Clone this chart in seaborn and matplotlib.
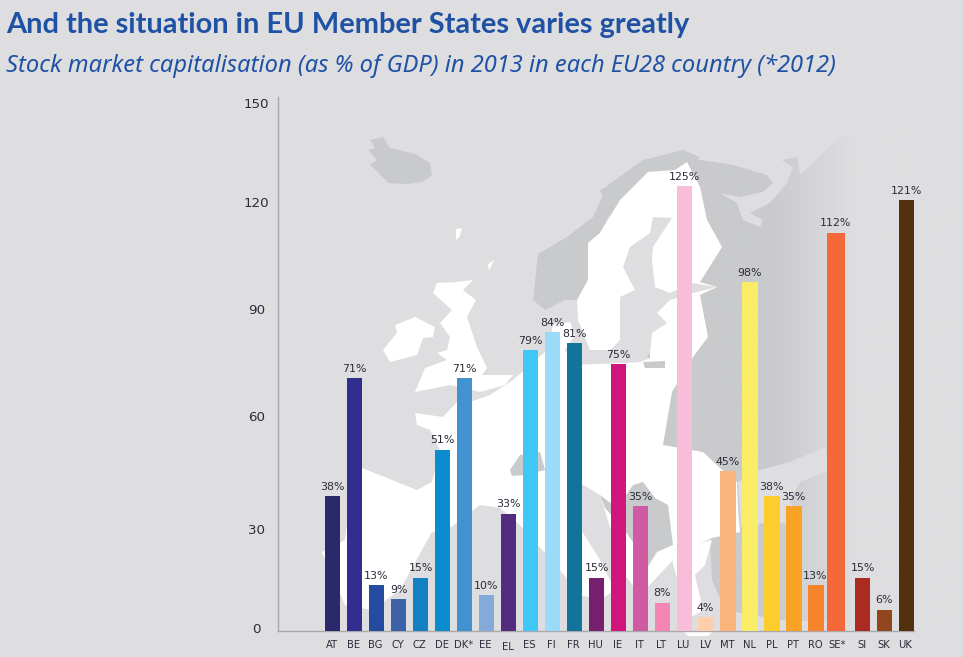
import numpy as np
import pandas as pd
import matplotlib
matplotlib.use("Agg")
import matplotlib.pyplot as plt
import seaborn as sns
from matplotlib.patches import Polygon
from matplotlib.colors import to_rgb
from matplotlib.transforms import ScaledTranslation

# ---------- data ----------
countries = ["AT", "BE", "BG", "CY", "CZ", "DE", "DK*", "EE", "EL", "ES", "FI", "FR", "HU", "IE",
             "IT", "LT", "LU", "LV", "MT", "NL", "PL", "PT", "RO", "SE*", "SI", "SK", "UK"]
values = [38, 71, 13, 9, 15, 51, 71, 10, 33, 79, 84, 81, 15, 75,
          35, 8, 125, 4, 45, 98, 38, 35, 13, 112, 15, 6, 121]
y_ticks = [0, 30, 60, 90, 120, 150]
title = "And the situation in EU Member States varies greatly"
subtitle = "Stock market capitalisation (as % of GDP) in 2013 in each EU28 country (*2012)"

# ---------- styles ----------
bar_colors = ["#2a2a6a", "#312e8f", "#254ba0", "#3e62aa", "#1480c4", "#0a8ccf", "#4292d0", "#83aad8",
              "#532c80", "#41c7f6", "#9bdaf8", "#14739a", "#761f6d", "#d0157d", "#cf5ba3", "#f386b5",
              "#f8bdd8", "#fdcfac", "#fbb37c", "#f9ec66", "#ffcc2e", "#f8a326", "#f6842c", "#f4683a",
              "#a92b22", "#91461d", "#53300e"]
wide_px = {"LV": 16, "MT": 16, "NL": 16, "PL": 16, "PT": 16, "RO": 16, "SE*": 18}
nudge_px = {"SI": 2, "SK": 2, "UK": 2}
BG, DARK, AX, TXT, BLUE = "#dedee0", "#c9cacc", "#a9a9ab", "#2b2b3a", "#1f52a5"
W, H = 963, 657

sns.set_theme(style="white")
plt.rcParams["font.family"] = ["DejaVu Sans"]
fig = plt.figure(figsize=(W / 100, H / 100), dpi=100, facecolor=BG)

# ---------- decorative map backdrop (pixel space) ----------
bgax = fig.add_axes([0, 0, 1, 1], zorder=0)
bgax.set_xlim(0, W); bgax.set_ylim(H, 0); bgax.axis("off")

def poly(pts, color):
    p = Polygon(pts, closed=True, fc=color, ec="none")
    bgax.add_patch(p)
    return p

c0, c1 = np.array(to_rgb(DARK)), np.array(to_rgb(BG))
t = np.clip((np.linspace(600, 963, 200) - 770) / 85, 0, 1)
grad = np.array([c0 * (1 - v) + c1 * v for v in t])[None, :, :]

def faded(pts):
    p = poly(pts, "none")
    im = bgax.imshow(grad, extent=(600, 963, 657, 120), aspect="auto", zorder=0.5)
    im.set_clip_path(p)

# eastern non-EU landmass fading into the background
faded([(600, 190), (683, 150), (700, 160), (733, 165), (767, 175), (773, 183), (763, 192), (740, 197), (720, 193),
       (737, 203), (743, 220), (760, 227), (763, 220), (750, 213), (770, 203), (787, 183), (793, 167), (782, 160),
       (797, 157), (800, 175), (813, 163), (840, 137), (880, 130), (960, 130), (960, 640), (860, 540),
       (738, 540), (660, 450), (640, 300)])
# Turkey
faded([(710, 538), (720, 533), (745, 530), (780, 525), (830, 528), (900, 540), (900, 625), (780, 620), (725, 610), (712, 580)])

# Iceland
poly([(370, 140), (383, 137), (390, 148), (400, 150), (417, 155), (430, 163), (432, 175), (423, 182), (407, 184),
      (388, 183), (378, 172), (370, 165), (377, 160), (368, 150), (375, 148)], DARK)
# Norway
poly([(533, 300), (538, 254), (567, 237), (593, 217), (608, 185), (643, 160), (683, 150), (700, 157),
      (690, 165), (664, 172), (645, 172), (620, 195), (600, 233), (588, 243), (588, 280), (577, 300),
      (565, 300), (545, 310)], DARK)
# Ireland
poly([(383, 350), (397, 333), (395, 325), (415, 317), (435, 327), (433, 337), (423, 338), (417, 355), (390, 362)], "white")
# Great Britain and northern islands
poly([(433, 293), (437, 283), (457, 282), (473, 280), (463, 290), (476, 300), (467, 317), (477, 347), (487, 368),
      (482, 375), (513, 375), (505, 385), (480, 392), (450, 385), (415, 392), (425, 368), (447, 360), (437, 353),
      (447, 350), (450, 337), (440, 323), (452, 310)], "white")
poly([(456, 229), (462, 228), (460, 236), (456, 240)], "white")
poly([(488, 264), (494, 260), (489, 271)], "white")
# continental Europe
poly([(415, 413), (417, 425), (430, 430), (440, 450), (432, 482), (417, 490), (362, 468), (350, 500), (345, 540),
      (322, 552), (345, 605), (372, 610), (400, 590), (423, 548), (432, 532), (450, 528), (480, 505), (500, 508),
      (520, 525), (560, 570), (580, 595), (600, 600), (615, 590), (600, 560), (575, 520), (567, 488), (575, 480),
      (600, 495), (625, 575), (640, 595), (680, 553), (712, 538), (740, 532), (738, 508), (737, 482), (720, 468),
      (703, 452), (663, 445), (672, 392), (693, 357), (708, 337), (700, 295), (650, 300), (650, 358),
      (640, 362), (575, 365), (565, 350), (575, 335), (570, 322), (553, 325), (550, 340), (545, 352), (530, 365),
      (513, 380), (490, 395), (470, 402), (457, 402), (443, 417)], "white")
# Greece and Crete
poly([(670, 552), (712, 540), (705, 565), (695, 575), (703, 610), (690, 618), (680, 590)], "white")
poly([(683, 631), (713, 631), (708, 636), (688, 636)], "white")
# Sweden and Finland
poly([(620, 200), (648, 172), (675, 170), (687, 162), (700, 187), (707, 220), (722, 247), (700, 282), (717, 287),
      (700, 295), (670, 300), (657, 313), (640, 345), (610, 350), (590, 350), (578, 320), (577, 300), (588, 280),
      (588, 243), (600, 233)], "white")
# Baltic sea
poly([(620, 340), (620, 297), (635, 290), (623, 267), (630, 247), (650, 233), (653, 217), (672, 218), (653, 247),
      (652, 260), (655, 287), (670, 293), (692, 283), (717, 287), (693, 293), (670, 300), (657, 313), (667, 323),
      (652, 333), (650, 353), (640, 362), (590, 364), (590, 350), (610, 350)], BG)
# Switzerland, Balkans, Kaliningrad
poly([(510, 470), (520, 455), (540, 452), (545, 470), (525, 475), (512, 476)], DARK)
poly([(600, 495), (617, 508), (633, 485), (643, 482), (655, 498), (668, 505), (673, 545), (657, 552), (647, 568),
      (640, 552), (623, 528), (605, 508)], DARK)
poly([(643, 362), (665, 361), (665, 368), (645, 368)], DARK)
# Black sea
poly([(738, 482), (745, 478), (760, 470), (790, 462), (825, 447), (830, 470), (800, 482), (790, 500), (800, 525),
      (770, 522), (741, 527)], BG)
bgax.set_xlim(0, W); bgax.set_ylim(H, 0)

# ---------- chart ----------
ax = fig.add_axes([278.3 / W, 1 - 631 / H, (914 - 278.3) / W, (631 - 97.3) / H], zorder=1)
ax.patch.set_alpha(0)
df = pd.DataFrame({"country": countries, "value": values})
sns.barplot(data=df, x="country", y="value", hue="country", palette=bar_colors, order=countries,
            hue_order=countries, legend=False, dodge=False, width=15 / 22, saturation=1, linewidth=0,
            ax=ax, zorder=3)

px_per_x = 22.0
ax.set_xlim((278.3 - 332.5) / px_per_x, (914 - 332.5) / px_per_x)
ax.set_ylim(0, 150)
ax.set_xlabel(""); ax.set_ylabel("")
ax.set_yticks(y_ticks)
ax.set_xticks(range(len(countries)))
ax.set_xticklabels(countries)

sns.despine(ax=ax, top=True, right=True)
for s in ("left", "bottom"):
    ax.spines[s].set_color(AX)
    ax.spines[s].set_linewidth(1.0)
    ax.spines[s].set_zorder(2)
ax.tick_params(axis="y", direction="in", length=10.4, width=0.9, color=AX, labelsize=9.6,
               labelcolor=TXT, pad=0)
ax.tick_params(axis="x", length=0, labelsize=7.2, labelcolor=TXT, pad=6.5)

# per-bar fine tuning
for name, val, patch in zip(countries, values, ax.patches):
    w = wide_px.get(name, 15) / px_per_x
    left = patch.get_x() + nudge_px.get(name, 0) / px_per_x
    if name in wide_px:
        left -= 1.5 * (wide_px[name] - 15) / px_per_x
    patch.set_x(left)
    patch.set_width(w)
    patch.set_edgecolor("none")
    patch.set_linewidth(0)
    ax.annotate(f"{val}%", (left + w / 2, val), xytext=(0, 6.6), textcoords="offset points",
                ha="center", va="center", fontsize=7.9, color=TXT, zorder=5)

# y tick labels: centred in a column left of the axis, with the reference's small offsets
y_label_center = {0: 628, 30: 529, 60: 416, 90: 309, 120: 202, 150: 103}
for lab, v in zip(ax.get_yticklabels(), y_ticks):
    lab.set_ha("center")
    ytick_px = 631 - v * (631 - 97.3) / 150
    dy = -(y_label_center[v] - ytick_px) / 100
    lab.set_transform(lab.get_transform() + ScaledTranslation(-21.5 / 100, dy, fig.dpi_scale_trans))
for lab, name in zip(ax.get_xticklabels(), countries):
    dy = -2 / 100 if name == "EL" else 0
    lab.set_transform(lab.get_transform() + ScaledTranslation((nudge_px.get(name, 0) - 1) / 100, dy, fig.dpi_scale_trans))

fig.text(6 / W, 1 - 25 / H, title, fontsize=20.9, fontweight="bold", family="Lato", color=BLUE, ha="left", va="center")
fig.text(6 / W, 1 - 66 / H, subtitle, fontsize=17.05, fontstyle="italic", family="Noto Sans", color=BLUE, ha="left", va="center")

fig.savefig("out.png", dpi=100, facecolor=BG)
